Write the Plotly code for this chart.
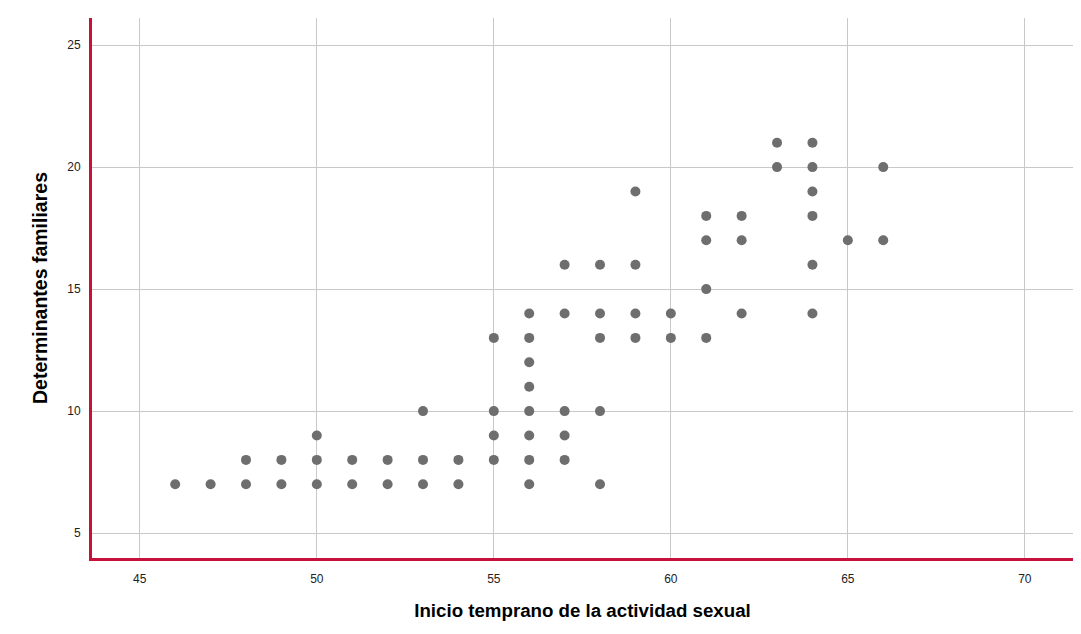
import plotly.graph_objects as go

# Data: x value -> list of y values
inicio = [46, 47, 48, 48, 49, 49, 50, 50, 50, 51, 51, 52, 52, 53, 53, 53, 54, 54,
          55, 55, 55, 55,
          56, 56, 56, 56, 56, 56, 56, 56,
          57, 57, 57, 57, 57,
          58, 58, 58, 58, 58,
          59, 59, 59, 59,
          60, 60,
          61, 61, 61, 61,
          62, 62, 62,
          63, 63,
          64, 64, 64, 64, 64, 64,
          65,
          66, 66]
determinantes = [7, 7, 7, 8, 7, 8, 7, 8, 9, 7, 8, 7, 8, 7, 8, 10, 7, 8,
                 8, 9, 10, 13,
                 7, 8, 9, 10, 11, 12, 13, 14,
                 8, 9, 10, 14, 16,
                 7, 10, 13, 14, 16,
                 13, 14, 16, 19,
                 13, 14,
                 13, 15, 17, 18,
                 14, 17, 18,
                 20, 21,
                 14, 16, 18, 19, 20, 21,
                 17,
                 17, 20]

x_ticks = [45, 50, 55, 60, 65, 70]
y_ticks = [5, 10, 15, 20, 25]

fig = go.Figure()
fig.add_trace(go.Scatter(
    x=inicio, y=determinantes, mode="markers",
    marker=dict(color="#6e6e6e", size=10, line=dict(width=0)),
    showlegend=False,
))

axis_font = dict(family="Arial, Liberation Sans, sans-serif", size=12, color="#222222")
xtitle_font = dict(family="Arial, Liberation Sans, sans-serif", size=18.7, color="#000000")
ytitle_font = dict(family="Arial, Liberation Sans, sans-serif", size=19.5, color="#000000")

fig.update_layout(
    width=1081, height=634,
    margin=dict(l=84, r=16, t=10, b=84),
    paper_bgcolor="white", plot_bgcolor="white",
    xaxis=dict(
        range=[43.65, 71.36], tickvals=x_ticks, ticktext=[str(v) for v in x_ticks],
        showgrid=True, gridcolor="#c8c8c8", gridwidth=1,
        showline=True, linecolor="#c8103c", linewidth=3,
        zeroline=False, ticks="", tickfont=axis_font, ticklabelstandoff=8,
        title=dict(text="<b>Inicio temprano de la actividad sexual</b>", font=xtitle_font, standoff=19),
    ),
    yaxis=dict(
        range=[3.98, 26.11], tickvals=y_ticks, ticktext=[str(v) for v in y_ticks],
        showgrid=True, gridcolor="#c8c8c8", gridwidth=1,
        showline=True, linecolor="#c8103c", linewidth=3,
        zeroline=False, ticks="", tickfont=axis_font, ticklabelstandoff=6,
        title=dict(text="<b>Determinantes familiares</b>", font=ytitle_font, standoff=15),
    ),
)

fig.write_html("out.html")
